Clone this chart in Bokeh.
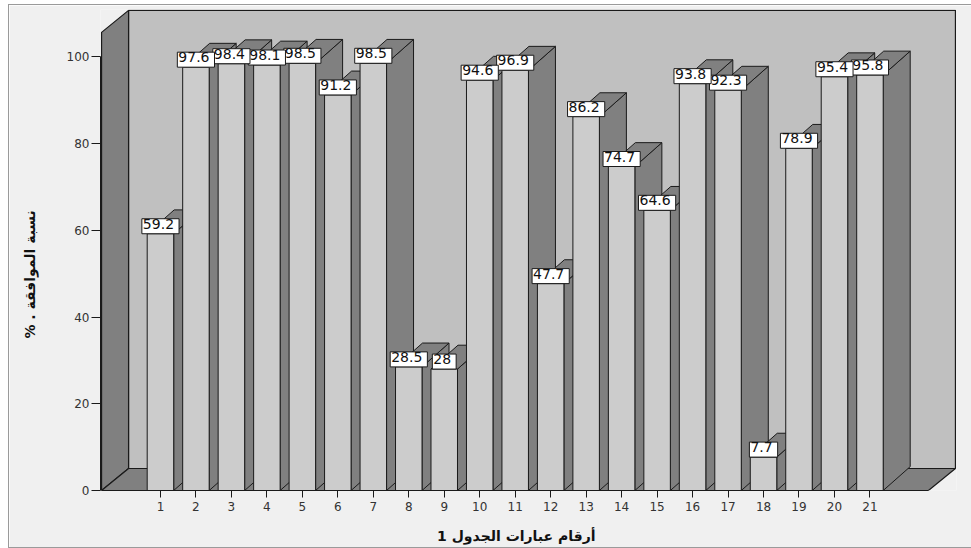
from bokeh.plotting import figure
from bokeh.models import FixedTicker, Range1d
from bokeh.embed import file_html
from bokeh.resources import INLINE
from bokeh.core.properties import value

# ---- data ----
categories = list(range(1, 22))
agree_pct = [59.2, 97.6, 98.4, 98.1, 98.5, 91.2, 98.5, 28.5, 28, 94.6, 96.9,
             47.7, 86.2, 74.7, 64.6, 93.8, 92.3, 7.7, 78.9, 95.4, 95.8]
y_ticks = [0, 20, 40, 60, 80, 100]
x_title = "أرقام عبارات الجدول 1"
y_title = "نسبة الموافقة . %"

# ---- 3D-look geometry (data units) ----
X_START, X_END = -0.69, 23.44
Y_START, Y_END = 0, 110.9
BAR_W = 0.747
H = BAR_W / 2
DX = 0.761          # depth offset, horizontal
DY_BAR = 5.5        # depth offset, vertical (bars)
DY_WALL = 5.07      # depth offset, vertical (walls)
X_WALL = -0.66
X_RIGHT = 23.41
WALL_TOP = 110.7

FRONT = "#cccccc"
DARK = "#808080"
BACK = "#c0c0c0"
BG = "#f0f0f0"
EDGE = "#1a1a1a"
NBSP = "\u00a0"

p = figure(width=962, height=542, output_backend="svg", toolbar_location=None,
           x_range=Range1d(X_START, X_END), y_range=Range1d(Y_START, Y_END),
           min_border_left=91, min_border_right=15, min_border_top=4,
           min_border_bottom=57)
p.background_fill_color = BG
p.border_fill_color = BG
p.outline_line_color = None
p.xgrid.visible = False
p.ygrid.visible = False
p.styles = {"margin-left": "9px", "margin-top": "5px",
            "outline": "1px solid #9a9a9a"}

# walls and floor
p.patch([X_WALL + DX, X_RIGHT, X_RIGHT, X_WALL + DX],
        [DY_WALL, DY_WALL, WALL_TOP, WALL_TOP],
        fill_color=BACK, line_color=EDGE, line_width=1.2)
p.patch([X_WALL, X_WALL + DX, X_WALL + DX, X_WALL],
        [0, DY_WALL, WALL_TOP, WALL_TOP - DY_WALL],
        fill_color=DARK, line_color=EDGE, line_width=1.2)
p.patch([X_WALL, X_WALL + DX, X_RIGHT, X_RIGHT - DX],
        [0, DY_WALL, DY_WALL, 0],
        fill_color=DARK, line_color=EDGE, line_width=1.2)

# bar side faces and top faces
side_xs, side_ys, top_xs, top_ys = [], [], [], []
for k, v in zip(categories, agree_pct):
    side_xs.append([k + H, k + H + DX, k + H + DX, k + H])
    side_ys.append([0, DY_BAR, v + DY_BAR, v])
    top_xs.append([k - H, k + H, k + H + DX, k - H + DX])
    top_ys.append([v, v, v + DY_BAR, v + DY_BAR])
p.patches(side_xs, side_ys, fill_color=DARK, line_color=EDGE, line_width=1)
p.patches(top_xs, top_ys, fill_color=DARK, line_color=EDGE, line_width=1)

# bar front faces
p.vbar(x=categories, top=agree_pct, width=BAR_W, bottom=0,
       fill_color=FRONT, line_color=EDGE, line_width=1)

# value labels (drawn right-to-left so each box overlaps the next one)
labels = [f"{v:g}" for v in agree_pct]
p.text(x=categories[::-1], y=agree_pct[::-1], text=labels[::-1],
       text_align="center", text_baseline="bottom",
       text_font=value("DejaVu Sans"), text_font_size="14px", text_color="#111111",
       background_fill_color="white", border_line_color=EDGE, border_line_width=1,
       padding=(1, 5, 0, 5))

# axes
p.yaxis.ticker = FixedTicker(ticks=y_ticks)
p.yaxis.bounds = (0, 100)
p.yaxis.major_tick_out = 9
p.yaxis.major_tick_in = 0
p.yaxis.minor_tick_out = 0
p.yaxis.minor_tick_in = 0
p.yaxis.major_label_standoff = 2
p.yaxis.major_label_text_font = "DejaVu Sans"
p.yaxis.major_label_text_font_size = "12px"
p.yaxis.major_label_text_color = "#333333"
p.yaxis.axis_line_color = EDGE
p.yaxis.major_tick_line_color = EDGE
# RTL embedding; leading no-break spaces nudge the label down like the reference
p.yaxis.axis_label = "\u202b" + NBSP * 10 + y_title + "\u202c"
p.yaxis.axis_label_text_font = "DejaVu Sans"
p.yaxis.axis_label_text_font_style = "bold"
p.yaxis.axis_label_text_font_size = "14px"
p.yaxis.axis_label_text_color = "#111111"
p.yaxis.axis_label_standoff = 26

p.xaxis.ticker = FixedTicker(ticks=categories)
p.xaxis.bounds = (X_WALL, X_RIGHT - DX)
p.xaxis.major_tick_out = 7
p.xaxis.major_tick_in = 0
p.xaxis.minor_tick_out = 0
p.xaxis.minor_tick_in = 0
p.xaxis.major_label_standoff = 4
p.xaxis.major_label_text_font = "DejaVu Sans"
p.xaxis.major_label_text_font_size = "12px"
p.xaxis.major_label_text_color = "#333333"
p.xaxis.axis_line_color = EDGE
p.xaxis.major_tick_line_color = EDGE
# trailing no-break spaces nudge the title left like the reference
p.xaxis.axis_label = x_title + NBSP * 5
p.xaxis.axis_label_text_font = "DejaVu Sans"
p.xaxis.axis_label_text_font_style = "bold"
p.xaxis.axis_label_text_font_size = "14px"
p.xaxis.axis_label_text_color = "#111111"
p.xaxis.axis_label_standoff = 14

open("out.html", "w").write(file_html(p, INLINE))
